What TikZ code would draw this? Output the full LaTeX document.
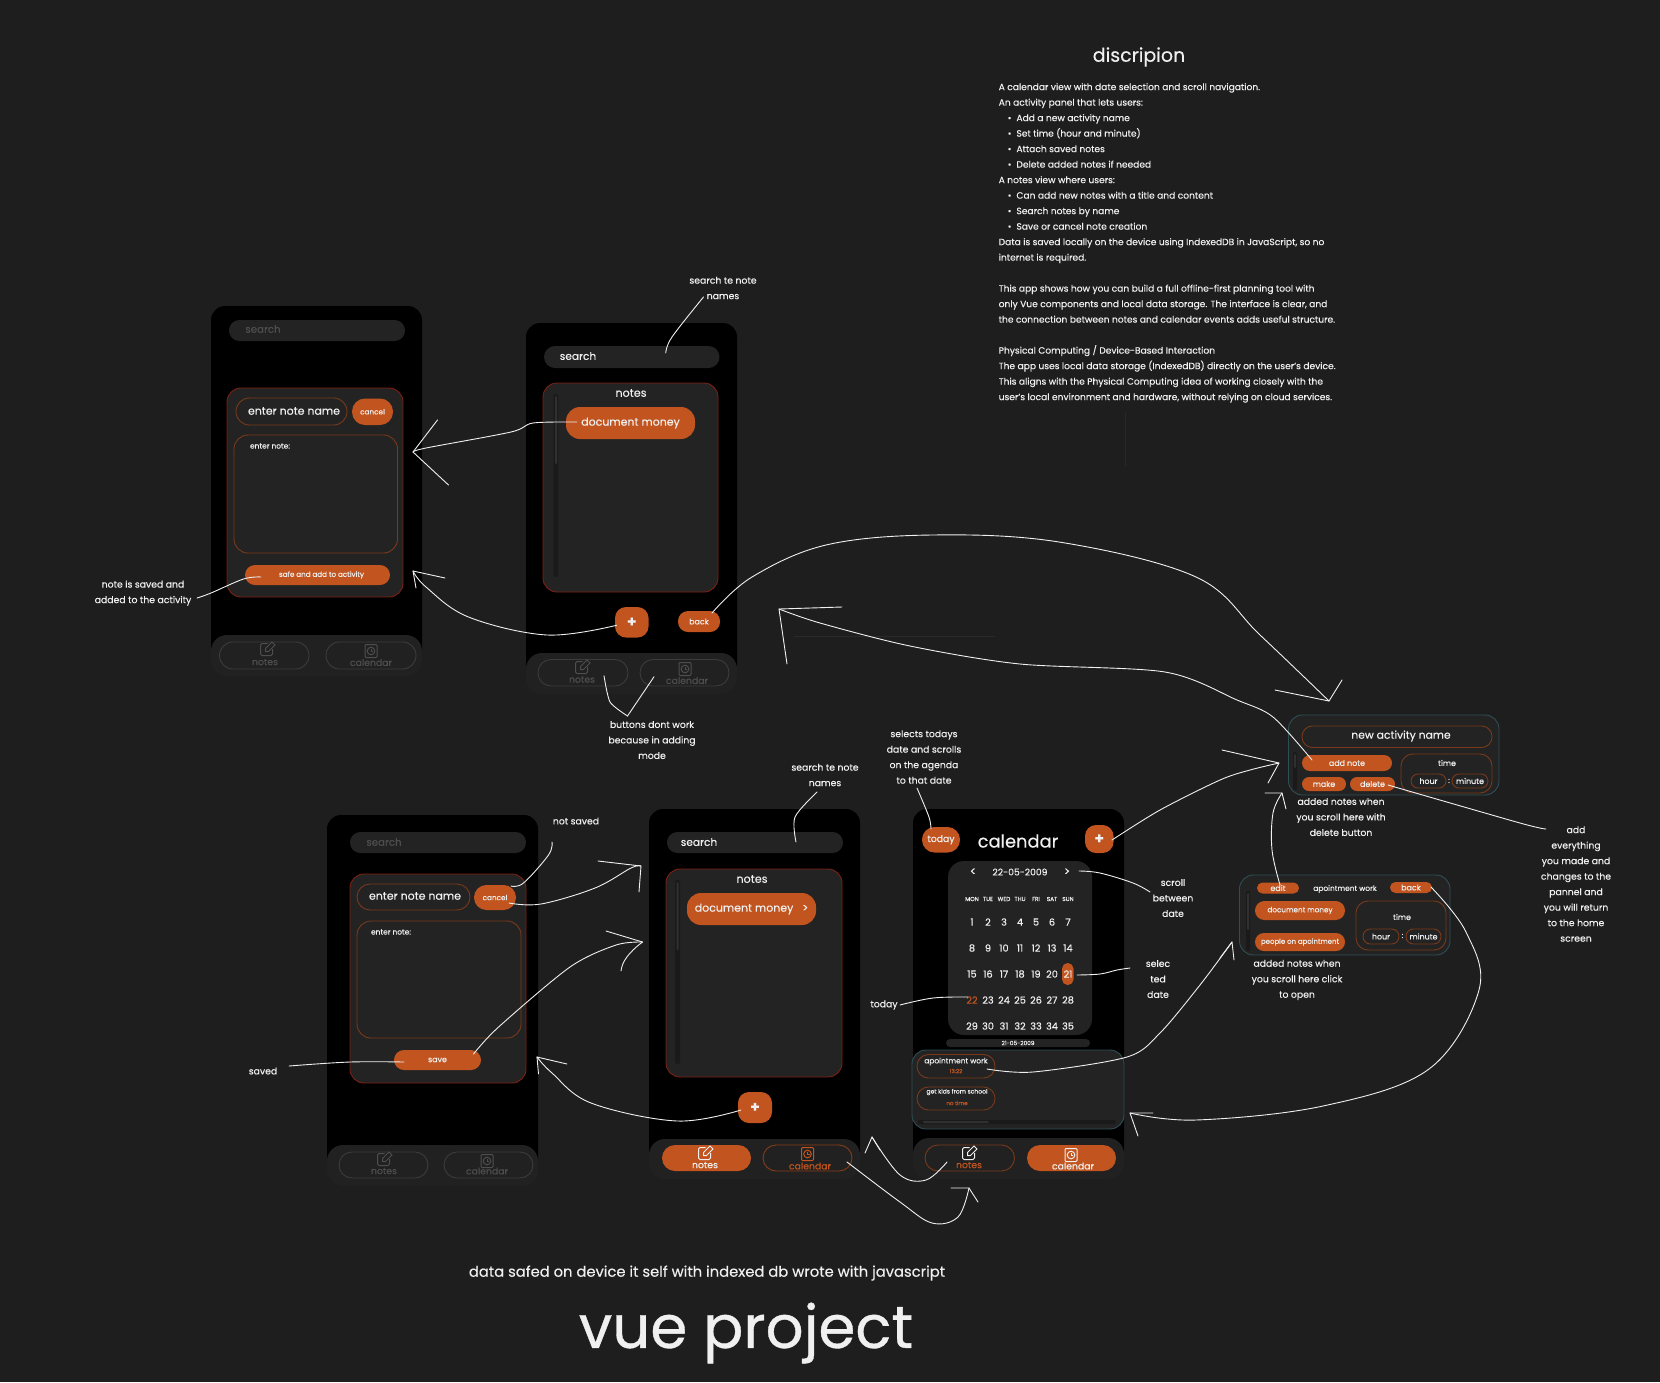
\documentclass[tikz,border=0pt]{standalone}
\usepackage{fontspec}
\setmainfont{Poppins}[Scale=0.93,FakeBold=0.25]
\definecolor{bgc}{HTML}{1E1E1E}
\definecolor{panelc}{HTML}{232323}
\definecolor{barc}{HTML}{212121}
\definecolor{trackc}{HTML}{1A1A1A}
\definecolor{thumbc}{HTML}{303030}
\definecolor{orangec}{HTML}{C2551F}
\definecolor{redline}{HTML}{7E2014}
\definecolor{pillline}{HTML}{7A3A1A}
\definecolor{tealline}{HTML}{2F4F55}
\definecolor{dimtext}{HTML}{4E4E4E}
\definecolor{inkc}{HTML}{F0F0F0}
\definecolor{dimline}{HTML}{3C3C3C}
\tikzset{
  fs/.style={font=\fontsize{#1}{#1}\selectfont},
  ml/.style={align=center,text=inkc,font=\fontsize{#1}{15.5}\selectfont,inner sep=0pt},
  tt/.style={text=inkc,inner sep=0pt},
  dimt/.style={text=dimtext,inner sep=0pt},
  ink/.style={draw=inkc,line width=0.9pt,line cap=round,line join=round},
  phone/.style={fill=black},
  bar/.style={fill=barc},
  panel/.style={fill=panelc,draw=redline,line width=0.9pt},
  tealp/.style={fill=panelc,draw=tealline,line width=0.9pt},
  field/.style={fill=panelc},
  outl/.style={draw=pillline,line width=0.9pt},
  outd/.style={draw=dimline,line width=0.9pt},
  orb/.style={fill=orangec,text=inkc},
  track/.style={fill=trackc},
  thumb/.style={fill=thumbc}
}
\newcommand{\bx}[8][]{\node[rectangle,inner sep=0pt,outer sep=0pt,rounded corners=#7pt,minimum width={(#5-#3)*1pt},minimum height={(#6-#4)*1pt},#1] (#2) at ({(#3+#5)/2},{(#4+#6)/2}) {#8};}
\newcommand{\tx}[6][tt]{\node[#1,fs=#5] (#2) at (#3,#4) {#6};}
\newcommand{\penicon}[3]{\begin{scope}[shift={(#1,#2)},line width=1pt,draw=#3]
 \draw[rounded corners=1.5pt] (0.5,-5.5) -- (-6.5,-5.5) -- (-6.5,6.5) -- (5.5,6.5) -- (5.5,0);
 \draw (-1.5,2.5) -- (-1.5,-0.5) -- (5,-7) -- (8,-4) -- (1.5,2.5) -- cycle;
\end{scope}}
\newcommand{\calicon}[3]{\begin{scope}[shift={(#1,#2)},line width=1pt,draw=#3]
 \draw[rounded corners=1pt] (-6,-6.5) rectangle (6,6.5);
 \draw (0,0) circle (3.8pt);
 \draw[line width=.7pt] (0,-2.2) -- (0,0) -- (2,0);
\end{scope}}
\newcommand{\barb}[5]{\draw[ink] ([shift={(#2,#3)}]#1) -- (#1) -- ([shift={(#4,#5)}]#1);}
\begin{document}
\begin{tikzpicture}[x=1pt,y=-1pt]
\useasboundingbox (0,0) rectangle (1660,1382);
\fill[bgc] (0,0) rectangle (1660,1382);
% faint marks
\draw[draw=barc!80!white,line width=1pt,opacity=.25] (794,636) -- (995,636);
\draw[draw=barc!80!white,line width=1pt,opacity=.25] (1125,413) -- (1125,466);

% ---- phone A
\bx[phone]{phA}{211}{306}{422}{665}{14}{}
\bx[bar]{barA}{211}{635}{422}{676}{16}{}
\bx[field]{searchA}{229}{320}{405}{341}{10.4}{}
\tx[dimt]{searchAt}{263}{329}{11}{search}
\bx[panel]{panelA}{227}{388}{403}{597}{14}{}
\bx[outl]{pillA}{236}{398}{347}{425}{13.4}{}
\tx{pillAt}{294}{411}{11.8}{enter note name}
\bx[orb,fs=7.8]{cancelA}{352}{398.5}{393}{425}{13}{cancel}
\bx[outl]{areaA}{234}{435}{397.5}{553}{14}{}
\tx{areaAt}{270}{446}{8}{enter note:}
\bx[orb,fs=7.7]{safeA}{245}{565}{390}{585}{10}{\hspace{8pt}safe and add to activity}
\bx[outd]{notesA}{219.500}{642}{309}{669}{13.4}{}
\bx[outd]{calA}{326}{642}{416}{669}{13.4}{}
\penicon{267}{649}{dimtext}
\calicon{371}{651}{dimtext}
\tx[dimt]{notesAt}{265}{662}{10}{notes}
\tx[dimt]{calAt}{371}{662.500}{10}{calendar}

% ---- phone B
\bx[phone]{phB}{526}{323}{737}{680}{14}{}
\bx[bar]{barB}{526}{653}{737}{694}{16}{}
\bx[field]{searchB}{544}{346}{719.500}{368}{11}{}
\tx{searchBt}{578}{356}{11.4}{search}
\bx[panel]{panelB}{543}{383}{718}{592}{14}{}
\tx{panelBt}{631}{393}{12}{notes}
\bx[track]{trackB}{553.500}{394}{558}{577}{2}{}
\bx[thumb]{thumbB}{555}{396}{557}{464}{1}{}
\bx[orb,fs=11.8]{docB}{566}{407}{695}{439}{14}{\raisebox{-1pt}{document money}}
\bx[orb,fs=16]{plusB}{615}{607}{648.500}{637.500}{11}{\textbf{+}}
\bx[orb,fs=8.5]{backB}{678}{611}{720}{632}{10}{back}
\bx[outd]{notesB}{538}{659.500}{628}{686}{13}{}
\bx[outd]{calB}{640}{659.500}{729}{686}{13}{}
\penicon{582}{667}{dimtext}
\calicon{685}{669}{dimtext}
\tx[dimt]{notesBt}{582}{679.500}{10}{notes}
\tx[dimt]{calBt}{687}{680.500}{10}{calendar}

% ---- phone C
\bx[phone]{phC}{327}{815}{538}{1175}{14}{}
\bx[bar]{barC}{327}{1145}{538}{1186}{16}{}
\bx[field]{searchC}{350}{832}{526}{853}{10.4}{}
\tx[dimt]{searchCt}{384}{842}{11}{search}
\bx[panel]{panelC}{350}{874}{526}{1083}{14}{}
\bx[outl]{pillC}{357}{884}{470}{910}{13}{}
\tx{pillCt}{415}{896}{11.8}{enter note name}
\bx[orb,fs=7.8]{cancelC}{474}{885}{516}{910}{12.4}{cancel}
\bx[outl]{areaC}{357}{921}{521}{1038}{14}{}
\tx{areaCt}{391}{932}{8}{enter note:}
\bx[orb,fs=8.5]{saveC}{394}{1050}{481}{1070}{10}{save}
\bx[outd]{notesC}{339}{1152}{428}{1178}{13}{}
\bx[outd]{calC}{444}{1152}{533}{1178}{13}{}
\penicon{384}{1159}{dimtext}
\calicon{487}{1161}{dimtext}
\tx[dimt]{notesCt}{384}{1171}{10}{notes}
\tx[dimt]{calCt}{487}{1171}{10}{calendar}

% ---- phone D
\bx[phone]{phD}{649}{809}{860}{1165}{14}{}
\bx[bar]{barD}{649}{1139}{860}{1179}{16}{}
\bx[field]{searchD}{667}{832}{843}{853}{10.4}{}
\tx{searchDt}{699}{842}{11.4}{search}
\bx[panel]{panelD}{666}{869}{842}{1077}{14}{}
\tx{panelDt}{752}{879}{12}{notes}
\bx[track]{trackD}{675}{880}{680}{1064}{2}{}
\bx[thumb]{thumbD}{676.500}{882}{678.500}{950}{1}{}
\bx[orb,fs=11.8]{docD}{687}{893}{816}{925}{14}{\raisebox{-1pt}{document money\hspace{9pt}>}}
\bx[orb,fs=16]{plusD}{738}{1092}{772}{1123}{11}{\textbf{+}}
\bx[orb]{notesD}{662}{1145}{751}{1171}{13}{}
\bx[outl,draw=orangec!70!black]{calD}{763}{1145}{852}{1171}{13}{}
\penicon{705}{1153}{inkc}
\calicon{807.500}{1154}{orangec}
\tx{notesDt}{705}{1165}{10}{notes}
\tx[tt,text=orangec]{calDt}{810}{1166}{10}{calendar}

% ---- phone E
\bx[phone]{phE}{913}{809}{1124}{1165}{14}{}
\bx[bar]{barE}{913}{1138}{1124}{1179}{16}{}
\bx[orb,fs=10]{todayE}{922}{827}{960}{852.500}{12.5}{today}
\tx{titleE}{1018}{841}{19.2}{calendar}
\bx[orb,fs=16]{plusE}{1085}{825}{1113.500}{853}{11}{\textbf{+}}
\bx[field]{calP}{948}{861}{1092}{1035}{16}{}
\tx{prevE}{973}{872}{12}{<}
\tx{dateE}{1020}{872}{9.9}{22-05-2009}
\tx{nextE}{1067}{872}{12}{>}
\foreach \w [count=\i from 0] in {MON,TUE,WED,THU,FRI,SAT,SUN}{
  \node[tt,fs=6.2] (wd\i) at ({972+16*\i},899) {\w};
}
\bx[orb]{sel21}{1062}{963}{1073.500}{985}{5.6}{}
\foreach \r [count=\j from 0] in {922,948,974,1000,1026}{
  \foreach \c in {0,...,6}{
    \pgfmathtruncatemacro{\dnum}{7*\j+\c+1}
    \ifnum\dnum=22
      \node[tt,text=orangec,fs=10.5] (d\dnum) at ({972+16*\c},\r) {\dnum};
    \else
      \node[tt,fs=10.5] (d\dnum) at ({972+16*\c},\r) {\dnum};
    \fi
  }
}
\bx[field]{dateBar}{946}{1039}{1090}{1047}{4}{}
\tx{dateBarT}{1018}{1043}{6.2}{21-05-2009}
\bx[tealp]{agenda}{912}{1050}{1124}{1129}{14}{}
\bx[outl]{item1}{917}{1054.500}{995}{1078}{11.5}{}
\tx{item1a}{956}{1061.500}{8}{apointment work}
\tx[tt,text=orangec]{item1b}{956}{1071}{6}{13:22}
\bx[outl]{item2}{917}{1087}{995}{1110}{11.4}{}
\tx{item2a}{957}{1092}{6.5}{get kids from school}
\tx[tt,text=orangec]{item2b}{957}{1103}{6}{no time}
\bx[track]{trackE}{918}{1120}{1116}{1124}{2}{}
\bx[thumb]{thumbE}{923}{1121}{989}{1123}{1}{}
\bx[outl]{notesE}{925}{1145}{1014.500}{1171}{13}{}
\bx[orb]{calE}{1027}{1145}{1116}{1171}{13}{}
\penicon{969}{1153}{inkc}
\calicon{1071}{1155}{inkc}
\tx[tt,text=orangec]{notesEt}{969}{1165}{10}{notes}
\tx{calEt}{1073}{1166}{10}{calendar}

% ---- activity panel
\bx[tealp]{actP}{1288.500}{715}{1499}{795}{14}{}
\bx[outl]{actName}{1302}{726}{1492}{747.500}{10.5}{}
\tx{actNameT}{1401}{736}{11.6}{new activity name}
\bx[track]{actTrack}{1293}{752}{1297}{790}{2}{}
\bx[thumb]{actThumb}{1294}{754}{1296}{768}{1}{}
\bx[orb,fs=8.5]{addN}{1302}{755}{1392}{771}{8}{add note}
\bx[orb,fs=8.5]{makeB}{1302}{777}{1346}{791}{7}{make}
\bx[orb,fs=8.5]{delB}{1350}{777}{1395}{791}{7}{delete}
\bx[outl]{actTime}{1401}{754}{1492}{793}{12}{}
\tx{actTimeT}{1447}{763}{8.5}{time}
\bx[outl,fs=8.5,text=inkc]{hourA}{1411}{774}{1446}{788}{7}{hour}
\tx{colA}{1449}{781}{8}{:}
\bx[outl,fs=8.5,text=inkc]{minA}{1452}{774}{1488}{788}{7}{minute}

% ---- appointment card
\bx[tealp]{cardP}{1239.500}{875}{1450}{955}{14}{}
\bx[orb,fs=8.5]{editB}{1257}{882.500}{1299}{893.500}{5.4}{edit}
\tx{cardT}{1345}{889}{8}{apointment work}
\bx[orb,fs=8.5]{backC}{1390}{882}{1432}{893}{5.4}{back}
\bx[track]{cardTrack}{1246}{891}{1250}{951}{2}{}
\bx[thumb]{cardThumb}{1247}{893}{1249}{930}{1}{}
\bx[orb,fs=7.8]{docC}{1255}{901}{1345}{920}{9.4}{document money}
\bx[orb,fs=7.5]{peopleC}{1255}{933}{1345}{951}{9}{people on apointment}
\bx[outl]{cardTime}{1356}{901}{1446}{950}{12}{}
\tx{cardTimeT}{1402}{917}{8.5}{time}
\bx[outl,fs=8.5,text=inkc]{hourC}{1363}{929}{1399}{944}{7.4}{hour}
\tx{colC}{1402.500}{936}{8}{:}
\bx[outl,fs=8.5,text=inkc]{minC}{1406}{929}{1441}{944}{7.4}{minute}

% ---- text
\node[anchor=north west,align=left,text=inkc,inner sep=0pt,font=\fontsize{9.8}{15.5}\selectfont] (desc) at (998.5,83) {
A calendar view with date selection and scroll navigation.\\
An activity panel that lets users:\\
\hspace*{9pt}•\hspace{5pt}Add a new activity name\\
\hspace*{9pt}•\hspace{5pt}Set time (hour and minute)\\
\hspace*{9pt}•\hspace{5pt}Attach saved notes\\
\hspace*{9pt}•\hspace{5pt}Delete added notes if needed\\
A notes view where users:\\
\hspace*{9pt}•\hspace{5pt}Can add new notes with a title and content\\
\hspace*{9pt}•\hspace{5pt}Search notes by name\\
\hspace*{9pt}•\hspace{5pt}Save or cancel note creation\\
Data is saved locally on the device using IndexedDB in JavaScript, so no\\
internet is required.\\[15.5pt]
This app shows how you can build a full offline-first planning tool with\\
only Vue components and local data storage. The interface is clear, and\\
the connection between notes and calendar events adds useful structure.\\[15.5pt]
Physical Computing / Device-Based Interaction\\
The app uses local data storage (IndexedDB) directly on the user's device.\\
This aligns with the Physical Computing idea of working closely with the\\
user's local environment and hardware, without relying on cloud services.};
\tx{descT}{1139}{57}{20.4}{discripion}
\node[ml=10] (lb1) at (723,288) {search te note\\names};
\node[ml=10] (lb2) at (652,740) {buttons dont work\\because in adding\\mode};
\node[ml=10] (lb3) at (143,593) {note is saved and\\added to the activity};
\node[ml=10] (lb4) at (825,775) {search te note\\names};
\node[ml=10] (lb5) at (576,821) {not saved};
\node[ml=10] (lb6) at (263,1071) {saved};
\node[ml=10] (lb7) at (924,757) {selects todays\\date and scrolls\\on the agenda\\to that date};
\node[ml=10] (lb8) at (1341,817) {added notes when\\you scroll here with\\delete button};
\node[ml=10] (lb9) at (1576,884) {add\\everything\\you made and\\changes to the\\pannel and\\you will return\\to the home\\screen};
\node[ml=10] (lb10) at (1173,898) {scroll\\between\\date};
\node[ml=10] (lb11) at (1158,979) {selec\\ted\\date};
\node[ml=10] (lb12) at (884,1005) {today};
\node[ml=10] (lb13) at (1297,980) {added notes when\\you scroll here click\\to open};
\tx{foot}{707}{1273}{15.85}{data safed on device it self with indexed db wrote with javascript}
\tx{vue}{746}{1333}{64}{\addfontfeature{FakeBold=0.6}vue project}

% ---- connectors
\coordinate (t1) at (413,452);
\draw[ink] plot[smooth,tension=.5] coordinates {([shift={(-53.5,-1)}]docB.center) (533,423) (511,432) (426,448) (t1)};
\barb{t1}{24.5}{-32}{35.5}{33}
\coordinate (t2) at (413,571);
\draw[ink] plot[smooth,tension=.6] coordinates {([shift={(-15,3)}]plusB.center) (547,635) (468.5,617) (426,587) (t2)};
\barb{t2}{32}{7}{3}{17}
\draw[ink] plot[smooth,tension=.6] coordinates {([shift={(-56.5,2)}]safeA.center) (243.5,579) (211,593) (197,598)};
\draw[ink] plot[smooth,tension=.6] coordinates {([shift={(34,-4)}]searchB.center) (672,337) (703.5,297)};
\coordinate (t5) at (627.5,716);
\draw[ink] plot[smooth,tension=.4] coordinates {([shift={(21,3)}]notesB.center) (610,702) (t5)};
\draw[ink] (t5) -- ([shift={(-30.5,4)}]calB.center);
\coordinate (t6) at (1329,701);
\draw[ink] plot[smooth,tension=.6] coordinates {([shift={(13,-8.5)}]backB.center) (752,577) (826,545) (932,535) (1059,542) (1196,577) (1260,635) (t6)};
\barb{t6}{-54}{-11}{13}{-21}
\coordinate (t7) at (779,609);
\draw[ink] plot[smooth,tension=.5] coordinates {([shift={(-35,-3)}]addN.center) (1273,717) (1237,700) (1165,672) (1020,664) (910,646) (820,623) (t7)};
\barb{t7}{63}{-2}{8}{55}
\coordinate (t8) at (641,866);
\draw[ink] plot[smooth,tension=.6] coordinates {([shift={(14,5.5)}]cancelC.center) (541,904) (595,888) (631,868) (t8)};
\barb{t8}{-43}{-5}{-2}{26}
\draw[ink] plot[smooth,tension=.6] coordinates {([shift={(16,-11.5)}]cancelC.center) (523.5,883) (548.5,855) (552,842)};
\coordinate (t10) at (642.5,942);
\draw[ink] plot[smooth,tension=.5] coordinates {([shift={(36,-6)}]saveC.center) (498.6,1027) (570,967) (616,945) (t10)};
\draw[ink] ([shift={(-36.5,-11)}]t10) -- (t10) .. controls (628,953) and (622,962) .. ([shift={(-21.5,29)}]t10);
\draw[ink] plot[smooth,tension=.6] coordinates {([shift={(-33.5,2)}]saveC.center) (350,1062) (289,1066)};
\coordinate (t12) at (537,1057);
\draw[ink] plot[smooth,tension=.6] coordinates {([shift={(-14,2.5)}]plusD.center) (677,1121) (591,1103) (552,1073) (t12)};
\barb{t12}{30}{7}{1.5}{17}
\draw[ink] plot[smooth,tension=.5] coordinates {([shift={(41,-0.5)}]searchD.center) (795,817) (817,792)};
\draw[ink] plot[smooth,tension=.5] coordinates {([shift={(-10,-10.75)}]todayE.center) (929,817) (917,788)};
\coordinate (t15) at (1279,763);
\draw[ink] plot[smooth,tension=.5] coordinates {([shift={(12.75,1)}]plusE.center) (1160,810) (1220,780) (1250,770) (t15)};
\barb{t15}{-57}{-13}{-11}{20}
\draw[ink] plot[smooth,tension=.6] coordinates {([shift={(12,-1)}]nextE.center) (1100,873) (1133,883) (1150,892)};
\draw[ink] plot[smooth,tension=.6] coordinates {([shift={(9,1)}]d21.center) (1100,974) (1117,970) (1130,968)};
\draw[ink] plot[smooth,tension=.6] coordinates {([shift={(-4,-3)}]d22.center) (933,998) (900,1005)};
\coordinate (t19) at (1232,942);
\draw[ink] plot[smooth,tension=.5] coordinates {([shift={(31,2.75)}]item1.center) (1033,1072) (1127,1057) (1160,1033) (1200,985) (t19)};
\barb{t19}{-12}{16}{2}{18}
\coordinate (t20) at (1282,793);
\draw[ink] plot[smooth,tension=.6] coordinates {([shift={(2,-3)}]editB.center) (1272,850) (1273,813) (t20)};
\barb{t20}{-17}{0}{4}{16}
\draw[ink] plot[smooth,tension=.5] coordinates {([shift={(15.5,1)}]delB.center) (1520,823) (1546,829)};
\coordinate (t22) at (1130,1113);
\draw[ink] plot[smooth,tension=.6] coordinates {([shift={(20,-0.5)}]backC.center) (1466,932) (1479,990) (1429,1069) (1323,1106) (1196,1120) (t22)};
\barb{t22}{23}{0}{8}{23}
\coordinate (t23) at (969,1188);
\draw[ink] plot[smooth,tension=.6] coordinates {([shift={(39.5,4)}]calD.center) (900,1202) (932,1223) (958,1217) (t23)};
\barb{t23}{-18}{0}{9}{14}
\coordinate (t24) at (872,1137);
\draw[ink] plot[smooth,tension=.6] coordinates {([shift={(-22.75,4)}]notesE.center) (926,1180) (900,1175) (t24)};
\barb{t24}{-7}{16}{8}{13}
\end{tikzpicture}
\end{document}
